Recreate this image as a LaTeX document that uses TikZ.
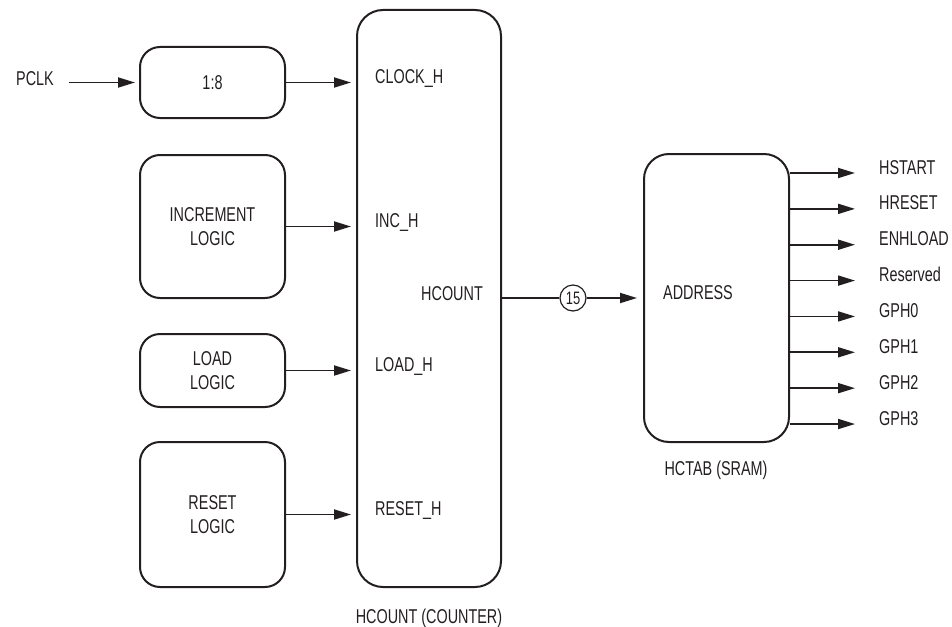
\documentclass[tikz,border=0pt]{standalone}
\usepackage{fontspec}
\setmainfont[FakeStretch=0.72]{Liberation Sans}
\usetikzlibrary{arrows.meta}
\definecolor{ink}{RGB}{35,31,32}
\begin{document}
\begin{tikzpicture}[x=1pt,y=-1pt, font=\fontsize{20}{24}\selectfont, color=ink,
  box/.style={draw, line width=2pt, rounded corners=20pt, inner sep=0pt, align=center},
  arr/.style={line width=1.8pt, -{Triangle[length=17pt,width=10pt]}},
  lbl/.style={inner sep=0pt, anchor=base west}]
\useasboundingbox (0,0) rectangle (952,626);

% left blocks
\node[box, minimum width=145pt, minimum height=71pt] (div) at (212.5,82.5) {1:8};
\node[box, minimum width=145pt, minimum height=143pt] (inc) at (212.5,226.5) {INCREMENT\\LOGIC};
\node[box, minimum width=145pt, minimum height=73pt] (load) at (212.5,370.5) {LOAD\\LOGIC};
\node[box, minimum width=145pt, minimum height=145pt] (rst) at (212.5,514.5) {RESET\\LOGIC};

% counter and table
\node[box, rounded corners=26pt, minimum width=144pt, minimum height=577pt] (cnt) at (429,298.5) {};
\node[box, rounded corners=25pt, minimum width=145pt, minimum height=288pt] (tab) at (716.5,298) {};

% labels
\node[lbl] (pclk) at (16,85) {PCLK};
\node[lbl] (clkh) at (375,83) {CLOCK\_H};
\node[lbl] (inch) at (375,227) {INC\_H};
\node[lbl] (loadh) at (375,371) {LOAD\_H};
\node[lbl] (rsth) at (375,515) {RESET\_H};
\node[inner sep=0pt, anchor=base east] (hc) at (483,300) {HCOUNT};
\node[inner sep=0pt, anchor=base] (cntname) at (429,623) {HCOUNT (COUNTER)};
\node[lbl] (addr) at (663,299) {ADDRESS};
\node[inner sep=0pt, anchor=base] (tabname) at (716,475) {HCTAB (SRAM)};
\node[circle, draw, line width=1.2pt, minimum size=26pt, inner sep=0pt,
      font=\fontsize{18}{18}\selectfont] (bus) at (573,298) {15};

% connectors
\coordinate (pin) at (69,82.5);
\draw[arr, shorten >=4pt] (pin) -- (div.west);
\draw[arr, shorten >=5pt] (div.east) -- (div.east -| cnt.west);
\draw[arr, shorten >=5pt] (inc.east) -- (inc.east -| cnt.west);
\draw[arr, shorten >=5pt] (load.east) -- (load.east -| cnt.west);
\draw[arr, shorten >=5pt] (rst.east) -- (rst.east -| cnt.west);
\draw[line width=1.8pt] (cnt.east |- bus) -- (bus.west);
\draw[arr, shorten >=6pt] (bus.east) -- (bus.east -| tab.west);

\foreach \t [count=\i] in {HSTART,HRESET,ENHLOAD,Reserved,GPH0,GPH1,GPH2,GPH3} {
  \coordinate (e\i) at (855,{173+35.86*(\i-1)});
  \node[lbl] (o\i) at (879,{174+35.86*(\i-1)}) {\t};
  \draw[arr] (tab.east |- e\i) -- (e\i);
}
\end{tikzpicture}
\end{document}
